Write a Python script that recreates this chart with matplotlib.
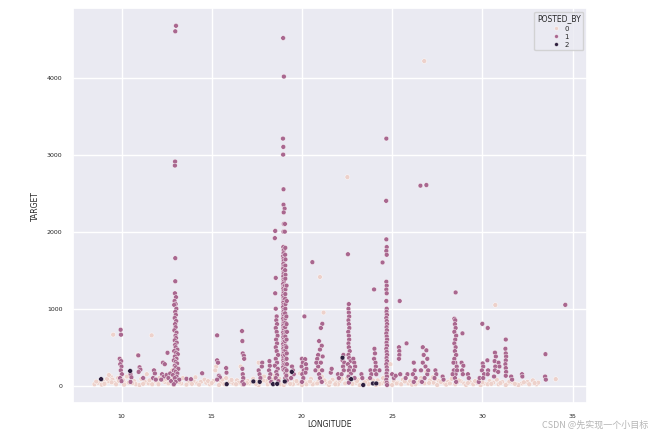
import numpy as np
import pandas as pd
import matplotlib
matplotlib.use("Agg")
import matplotlib.pyplot as plt
import seaborn as sns

# POSTED_BY = 0 (light), mostly a low band plus a few outliers
lon_0 = [26.78, 22.52, 21.0, 21.2, 30.72, 9.54, 11.67, 34.07, 17.6, 16.6, 24.9, 10.9, 15.25, 16.8, 9.4, 12.8,
         8.5, 8.7, 9.0, 9.1, 9.3, 9.5, 9.6, 9.8, 10.1, 10.2, 10.3, 10.7, 10.8, 11.1, 11.3, 11.4, 11.5, 11.9,
         12.0, 12.1, 12.4, 12.6, 12.8, 13.1, 13.3, 13.4, 13.7, 14.0, 14.2, 14.4, 14.7, 14.9, 15.1, 15.2, 15.5,
         15.6, 16.0, 16.2, 16.4, 16.5, 16.9, 17.1, 17.3, 17.5, 17.7, 17.9, 18.0, 18.3, 18.4, 18.7, 18.8, 19.0,
         19.1, 19.3, 19.6, 19.8, 20.1, 20.3, 20.5, 20.7, 20.9, 21.1, 21.3, 21.4, 21.7, 21.9, 22.1, 22.4, 22.5,
         22.7, 23.0, 23.1, 23.4, 23.6, 23.9, 24.2, 24.4, 24.6, 24.8, 25.1, 25.3, 25.6, 25.9, 26.0, 26.4, 26.6,
         26.8, 27.1, 27.3, 27.6, 27.9, 28.1, 28.3, 28.6, 28.8, 29.0, 29.3, 29.5, 29.7, 30.1, 30.4, 30.6, 30.9,
         31.1, 31.4, 31.7, 31.9, 32.2, 32.5, 32.8, 33.0,
         8.9, 9.2, 9.7, 10.4, 11.0, 11.7, 12.3, 12.9, 13.6, 14.6, 15.4, 15.8, 16.7, 17.0, 17.6, 18.1, 18.5,
         19.2, 19.5, 20.0, 20.6, 21.0, 21.5, 22.0, 22.6, 23.2, 23.7, 24.1, 24.5, 25.0, 25.5, 26.1, 26.9, 27.5,
         28.0, 28.5, 29.1, 29.9, 30.3, 30.8, 31.3, 32.0, 32.6, 33.1,
         8.6, 9.05, 9.45, 9.85, 10.15, 10.6, 11.2, 11.55, 12.05, 12.45, 13.2, 13.9, 14.3, 14.8, 15.0, 15.7,
         16.1, 16.35, 16.95, 17.2, 17.45, 17.85, 18.25, 18.75, 19.35, 19.7, 20.25, 20.45, 20.85, 21.25, 21.55,
         21.85, 22.2, 22.8, 23.05, 23.5, 23.95, 24.3, 24.75, 25.25, 25.7, 26.3, 26.55, 27.05, 27.25, 27.7,
         28.2, 28.7, 29.2, 29.6, 30.0, 30.5, 31.0, 31.5, 31.8, 32.3, 32.9, 9.3, 14.1, 19.9, 25.8, 27.4]
target_0 = [4214, 2708, 1412, 950, 1048, 663, 654, 86, 300, 250, 280, 400, 250, 350, 120, 200,
            20, 40, 50, 30, 60, 80, 40, 100, 70, 30, 120, 60, 20, 90, 50, 150, 30, 60,
            40, 100, 50, 30, 80, 60, 30, 100, 40, 60, 30, 50, 40, 20, 60, 200, 40,
            80, 50, 30, 70, 40, 60, 30, 90, 50, 40, 120, 60, 30, 80, 40, 20, 10,
            40, 80, 50, 30, 60, 40, 90, 30, 50, 120, 60, 30, 80, 40, 60, 30, 100,
            50, 40, 80, 30, 60, 40, 70, 30, 50, 20, 60, 40, 80, 30, 60, 40, 100,
            30, 70, 40, 60, 30, 50, 90, 40, 60, 30, 50, 20, 40, 30, 60, 40, 20,
            50, 30, 40, 20, 30, 50, 70, 20,
            15, 90, 20, 40, 10, 20, 70, 10, 15, 80, 10, 100, 15, 60, 10, 20, 130,
            150, 20, 10, 20, 200, 10, 20, 180, 10, 20, 10, 100, 10, 20, 15, 180, 10,
            15, 20, 10, 10, 20, 80, 10, 10, 20, 40,
            55, 25, 45, 65, 15, 35, 25, 70, 20, 90, 45, 25, 15, 60, 35, 20,
            75, 20, 35, 50, 25, 70, 45, 90, 25, 60, 20, 55, 30, 70, 45,
            20, 90, 25, 60, 45, 70, 25, 140, 30, 55, 20, 60, 35, 110, 50,
            30, 70, 35, 60, 45, 25, 35, 55, 25, 45, 35, 140, 110, 160, 120, 90]

# POSTED_BY = 1 (purple)
lon_1 = [9.95, 9.97, 9.9, 9.98, 9.93, 10.0, 9.96, 10.02, 9.92, 10.0,
         10.5, 10.55, 10.5, 10.93, 11.0, 11.05, 10.95, 11.2, 11.8, 11.85, 11.75, 11.9,
         12.55, 12.3, 12.4, 12.25, 12.35, 12.5, 12.6, 12.7, 12.75, 12.2,
         13.02, 12.98, 12.97, 12.96, 12.98, 12.98, 12.96, 13.02, 12.94, 13.0, 12.92, 13.04, 12.98, 13.01,
         12.95, 13.03, 12.97, 13.0, 12.93, 13.05, 12.99, 13.02, 12.95, 13.06, 12.97, 13.0, 13.1, 12.92,
         13.03, 13.12, 12.96, 13.05, 12.9, 13.0, 13.08, 12.95, 13.02, 13.15, 12.9, 13.0, 13.1, 12.85,
         13.05, 12.95, 13.2, 13.0, 12.9,
         13.6, 13.85, 14.47, 15.3, 15.3, 15.35, 15.4, 15.45, 15.3, 15.8, 15.82,
         16.68, 16.7, 16.72, 16.78, 16.8, 16.7, 16.72, 16.75, 16.7, 16.78,
         17.6, 17.65, 17.8, 17.78, 17.7, 18.2, 18.22, 18.18, 18.25, 18.2, 18.3,
         18.52, 18.5, 18.55, 18.52, 18.55, 18.6, 18.58, 18.62, 18.55, 18.6, 18.65, 18.57, 18.62, 18.55,
         18.6, 18.68, 18.55, 18.62, 18.5, 18.66, 18.58, 18.62, 18.55, 18.7,
         18.96, 19.0, 18.95, 18.97, 18.96, 18.98, 18.98, 19.04, 18.99, 19.0, 19.06, 18.98, 19.05,
         18.98, 18.97, 18.99, 18.98, 18.96, 18.98, 18.99, 18.97, 18.98, 18.96, 18.99, 18.98, 18.97, 18.98,
         18.99, 18.96, 18.98, 18.97, 18.99, 18.98, 18.96, 18.98, 18.99, 18.97, 18.98, 18.96, 18.99, 18.98,
         18.97, 18.98, 18.96, 18.99, 18.98, 18.97, 18.98, 18.99, 18.96, 18.98, 18.97, 18.99, 18.98, 18.96,
         18.98, 18.97, 18.99, 18.98, 18.96, 18.98, 18.97, 18.99, 18.98, 18.96, 18.98,
         19.08, 19.07, 19.09, 19.08, 19.07, 19.09, 19.08, 19.07, 19.09, 19.08, 19.07, 19.09, 19.08, 19.07,
         19.09, 19.08, 19.07, 19.09, 19.08, 19.07, 19.09, 19.08, 19.07, 19.09, 19.08, 19.07, 19.09, 19.08,
         19.07,
         19.15, 19.16, 19.14, 19.15, 19.17, 19.15, 19.14, 19.16, 19.15, 19.17, 19.15, 19.14, 19.16,
         19.45, 19.5, 19.55, 19.4,
         20.0, 20.18, 20.05, 19.98, 20.1, 20.02, 20.08, 20.0, 20.14, 20.22, 20.25, 20.2, 20.58,
         21.13, 21.05, 20.95, 21.1, 21.0, 20.9, 21.15, 20.85, 21.05, 20.9, 21.12, 20.95, 21.0, 21.1, 20.8, 20.75,
         21.6, 21.65, 22.0, 22.05, 22.3, 22.25, 22.35, 22.28, 22.32, 22.2,
         22.55, 22.6, 22.58, 22.6, 22.62, 22.58, 22.6, 22.63, 22.57, 22.6, 22.62, 22.58, 22.6, 22.65,
         22.58, 22.62, 22.7, 22.55, 22.66, 22.6, 22.72, 22.58, 22.65, 22.6,
         22.85, 22.9, 22.95, 22.88, 22.92, 23.3, 23.35, 23.8, 23.85, 23.78,
         24.0, 24.02, 24.05, 24.0, 24.08, 24.1, 24.05, 24.12, 24.3, 24.47,
         24.68, 24.67, 24.68, 24.7, 24.68, 24.7, 24.68, 24.7, 24.68, 24.7, 24.68, 24.7,
         24.69, 24.71, 24.68, 24.7, 24.72, 24.69, 24.71, 24.68, 24.7, 24.72, 24.69, 24.71, 24.68, 24.7,
         24.72, 24.69, 24.71, 24.68, 24.7, 24.72, 24.69, 24.71, 24.68, 24.7, 24.72,
         25.0, 25.1, 25.2, 25.42, 25.38, 25.4, 25.4, 25.38, 25.45, 25.8, 25.85, 25.75,
         26.2, 26.25, 26.15, 26.3, 26.2, 26.57, 26.9,
         26.7, 26.9, 26.75, 26.95, 26.7, 26.85, 26.6, 26.95, 26.8, 26.65, 27.0,
         27.4, 27.45, 27.35, 27.8, 27.85,
         28.52, 28.45, 28.5, 28.48, 28.52, 28.45, 28.55, 28.5, 28.45, 28.52, 28.48, 28.55, 28.45, 28.5,
         28.58, 28.42, 28.52, 28.48, 28.55, 28.4, 28.6, 28.35,
         28.9, 28.85, 28.95, 28.88, 28.92, 29.2, 29.25, 29.8, 29.85,
         30.0, 30.02, 30.05, 29.98, 30.1, 30.05, 30.3, 30.28, 30.32, 30.3,
         30.7, 30.75, 30.68, 30.72, 30.7, 30.65, 30.9, 30.95, 30.88,
         31.3, 31.28, 31.3, 31.32, 31.3, 31.28, 31.3, 31.32, 31.3,
         31.6, 31.65, 32.2, 32.22, 33.5, 33.48, 33.52, 34.6]
target_1 = [727, 663, 350, 320, 280, 250, 200, 150, 100, 60,
            150, 110, 50, 394, 240, 210, 180, 100, 200, 160, 100, 80,
            428, 300, 280, 150, 120, 140, 100, 160, 60, 80,
            4672, 4600, 2910, 2858, 1656, 1356, 1200, 1150, 1100, 1060, 1050, 1000, 960, 920,
            880, 840, 800, 760, 720, 690, 650, 620, 590, 560, 530, 500, 470, 450,
            430, 410, 380, 350, 330, 310, 290, 260, 240, 220, 200, 180, 160, 140,
            120, 100, 80, 50, 20,
            90, 85, 162, 654, 330, 300, 130, 110, 80, 230, 170,
            710, 580, 420, 390, 350, 220, 150, 100, 50, 20,
            200, 150, 300, 250, 100, 320, 260, 200, 150, 100, 50,
            2010, 1916, 1400, 1200, 1000, 900, 850, 800, 750, 700, 650, 600, 550, 500,
            450, 400, 350, 300, 260, 220, 180, 140, 100, 60,
            4513, 4013, 3208, 3100, 3000, 2550, 2350, 2300, 2250, 2100, 2100, 2000, 2000,
            1800, 1800, 1760, 1720, 1680, 1650, 1620, 1580, 1550, 1520, 1480, 1450, 1420, 1380,
            1350, 1320, 1290, 1260, 1230, 1200, 1170, 1140, 1110, 1080, 1050, 1020, 990, 960,
            930, 900, 870, 840, 810, 780, 750, 720, 690, 660, 630, 600, 570, 540,
            510, 480, 450, 420, 390, 360, 330, 300, 270, 240, 210,
            1790, 1700, 1640, 1560, 1500, 1440, 1390, 1300, 1250, 1190, 1130, 1060, 1000, 940,
            880, 820, 760, 700, 640, 580, 520, 460, 400, 340, 280, 220, 160, 100,
            50,
            1300, 1100, 900, 800, 700, 600, 500, 420, 350, 280, 200, 130, 70,
            250, 200, 150, 100,
            350, 345, 300, 250, 200, 150, 100, 50, 900, 280, 220, 170, 1604,
            804, 750, 580, 520, 470, 400, 380, 350, 300, 250, 200, 150, 100, 50, 300, 200,
            170, 220, 150, 100, 400, 330, 300, 250, 200, 150,
            1707, 1060, 1000, 950, 900, 850, 800, 750, 700, 650, 600, 550, 500, 450,
            400, 360, 320, 280, 240, 200, 160, 120, 80, 40,
            350, 300, 250, 200, 100, 150, 100, 200, 150, 100,
            1250, 480, 420, 350, 300, 250, 200, 150, 200, 1600,
            3208, 2400, 1900, 1800, 1750, 1700, 1350, 1300, 1250, 1200, 1100, 1000,
            960, 920, 880, 840, 800, 760, 720, 680, 640, 600, 560, 520, 480, 440,
            400, 360, 320, 280, 240, 200, 160, 120, 80, 40, 10,
            150, 100, 130, 1100, 500, 450, 400, 350, 150, 550, 150, 100,
            300, 200, 150, 100, 50, 2597, 2605,
            500, 460, 400, 350, 300, 250, 200, 150, 100, 50, 200,
            200, 150, 100, 120, 80,
            1211, 870, 850, 800, 750, 700, 650, 600, 550, 500, 450, 400, 350, 300,
            250, 200, 150, 100, 50, 300, 200, 150,
            680, 300, 260, 200, 150, 150, 100, 50, 100,
            804, 290, 250, 200, 150, 100, 750, 330, 200, 150,
            430, 380, 320, 250, 200, 120, 300, 250, 180,
            600, 480, 420, 380, 330, 280, 230, 180, 130,
            120, 80, 150, 120, 410, 120, 80, 1050]

# POSTED_BY = 2 (dark)
lon_2 = [8.87, 10.48, 15.83, 17.31, 17.66, 18.4, 18.63, 19.05, 19.44, 22.25, 22.73, 23.4, 23.94, 24.12]
target_2 = [86, 192, 21, 56, 51, 21, 25, 56, 180, 364, 86, 10, 30, 30]

df = pd.DataFrame({
    "LONGITUDE": lon_0 + lon_1 + lon_2,
    "TARGET": target_0 + target_1 + target_2,
    "POSTED_BY": [0] * len(lon_0) + [1] * len(lon_1) + [2] * len(lon_2),
})

sns.set_theme(style="darkgrid")
plt.rcParams["font.family"] = ["Liberation Sans Narrow", "DejaVu Sans"]

fig = plt.figure(figsize=(6.5, 4.32), dpi=100)
ax = fig.add_axes([0.112, 0.066, 0.791, 0.915])
sns.scatterplot(data=df, x="LONGITUDE", y="TARGET", hue="POSTED_BY", s=12,
                linewidth=0.3, edgecolor="white", ax=ax)

ax.set_xlim(7.3, 35.8)
ax.set_ylim(-230, 4900)
ax.set_xticks([10, 15, 20, 25, 30, 35])
ax.set_yticks([0, 1000, 2000, 3000, 4000])
ax.tick_params(labelsize=4.5, pad=1.5)
ax.set_xlabel("LONGITUDE", fontsize=5.5, labelpad=1)
ax.set_ylabel("TARGET", fontsize=5.5, labelpad=5)

leg = ax.legend(title="POSTED_BY", loc="upper right", fontsize=5, title_fontsize=5.5,
                markerscale=0.8, handletextpad=0.3, borderpad=0.4, labelspacing=0.3)

fig.text(0.997, 0.006, "CSDN @先实现一个小目标", ha="right", va="bottom", fontsize=6.5,
         color="#b5b5b5", family=["Noto Sans CJK SC", "DejaVu Sans"])

fig.savefig("out.png", dpi=100)
